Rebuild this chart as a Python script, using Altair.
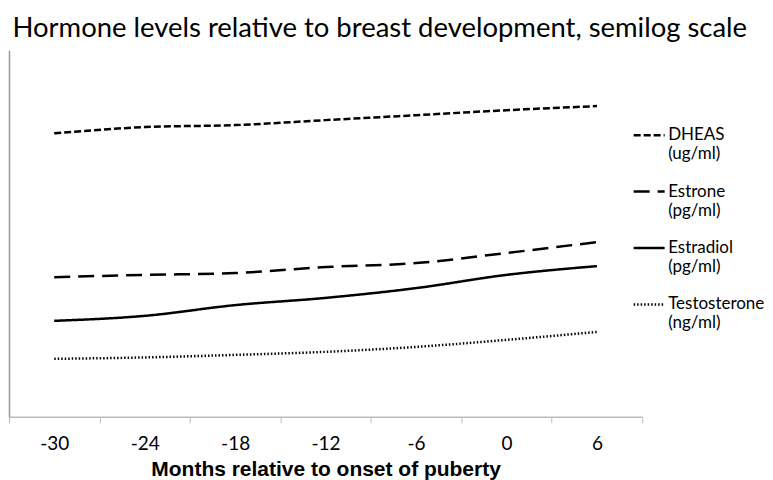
import altair as alt
import pandas as pd

months = ["-30", "-24", "-18", "-12", "-6", "0", "6"]
series_names = ["DHEAS|(ug/ml)", "Estrone|(pg/ml)", "Estradiol|(pg/ml)", "Testosterone|(ng/ml)"]
dheas = [209, 235, 244, 268, 294, 323, 349]
estrone = [13.9, 14.5, 15.0, 16.8, 18.1, 21.9, 26.9]
estradiol = [6.1, 6.7, 8.2, 9.4, 11.3, 14.5, 17.1]
testosterone = [2.98, 3.06, 3.21, 3.40, 3.73, 4.26, 4.95]

rows = []
for name, vals in zip(series_names, [dheas, estrone, estradiol, testosterone]):
    for m, v in zip(months, vals):
        rows.append({"month": m, "value": v, "series": name})
df = pd.DataFrame(rows)

dashes = [[7, 3], [16, 8], [1, 0], [1.5, 2]]

chart = alt.Chart(df).mark_line(color="black", strokeWidth=2.5, interpolate="monotone").encode(
    x=alt.X("month:O", sort=months,
            scale=alt.Scale(paddingInner=0, paddingOuter=0),
            axis=alt.Axis(title="Months relative to onset of puberty", labelAngle=0,
                          tickBand="extent", tickSize=6, tickColor="#bbbbbb",
                          domainColor="#bbbbbb", domainWidth=1.5,
                          labelFont="Lato", labelFontSize=19, labelColor="#000000",
                          labelPadding=12, titleFont="Liberation Sans", titleFontSize=21,
                          titleFontWeight="bold", titleColor="#000000", titlePadding=5)),
    y=alt.Y("value:Q", scale=alt.Scale(type="log", domain=[1, 1000]),
            axis=alt.Axis(title=None, labels=False, ticks=False, grid=False,
                          domainColor="#999999", domainWidth=1.5)),
    strokeDash=alt.StrokeDash("series:N", sort=series_names,
                              scale=alt.Scale(domain=series_names, range=dashes),
                              legend=alt.Legend(title=None, orient="none", legendX=624, legendY=68,
                                                symbolType="stroke", symbolSize=961,
                                                symbolStrokeWidth=2.5, symbolStrokeColor="black",
                                                labelExpr="split(datum.label, '|')",
                                                labelFont="Lato", labelFontSize=17,
                                                labelColor="#000000", labelLimit=300,
                                                rowPadding=12.5, labelOffset=2)),
).properties(
    width=634, height=367,
    title=alt.Title("Hormone levels relative to breast development, semilog scale",
                    anchor="start", font="Lato", fontSize=27.5, fontWeight="normal",
                    color="#000000", offset=8, dx=4),
    padding={"left": 0, "top": 6, "right": 0, "bottom": 0},
).configure_view(stroke=None)

chart.save("out.html", embed_options={"renderer": "svg", "actions": False})
